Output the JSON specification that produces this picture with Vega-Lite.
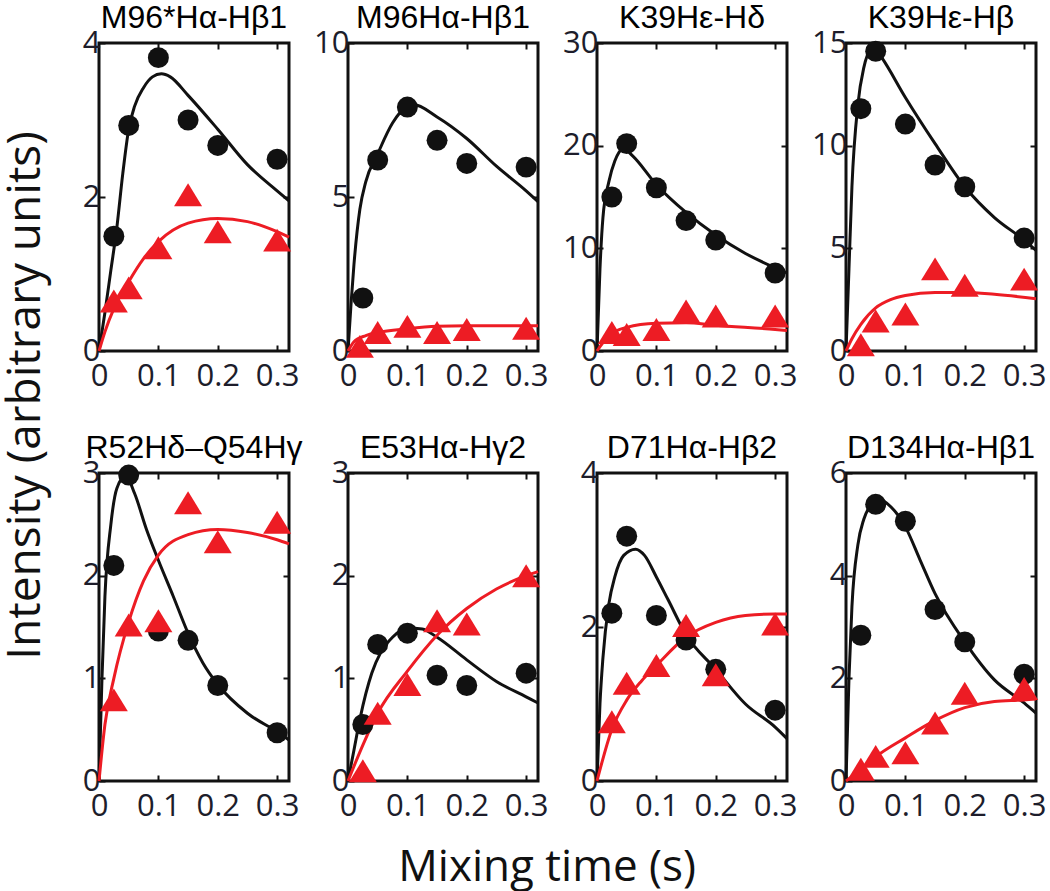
{
"$schema":"https://vega.github.io/schema/vega-lite/v6.json",
"background":"white",
"padding":{"left":2,"top":0,"right":5,"bottom":5},
"config":{
 "view":{"stroke":"#111","strokeWidth":3},
 "axis":{"domain":false,"grid":false,"labelFont":"Open Sans","labelFontSize":31,"labelColor":"#1d1d2b","tickColor":"#111","tickWidth":2,"tickSize":-6,"labelPadding":8,"labelFlush":false,"labelOverlap":false,"title":null},
 "axisX":{"labelPadding":16},
 "axisY":{"labelPadding":5},
 "title":{"font":"Liberation Sans","fontSize":32,"fontWeight":"normal","color":"#000","anchor":"middle","baseline":"alphabetic","offset":-8}
},
"datasets":{"d":[
{"p":1,"s":"b","k":"pt","t":0.025,"v":1.49},{"p":1,"s":"b","k":"pt","t":0.05,"v":2.93},{"p":1,"s":"b","k":"pt","t":0.1,"v":3.81},{"p":1,"s":"b","k":"pt","t":0.15,"v":3.0},{"p":1,"s":"b","k":"pt","t":0.2,"v":2.67},{"p":1,"s":"b","k":"pt","t":0.3,"v":2.49},
{"p":1,"s":"r","k":"pt","t":0.025,"v":0.65},{"p":1,"s":"r","k":"pt","t":0.05,"v":0.82},{"p":1,"s":"r","k":"pt","t":0.1,"v":1.34},{"p":1,"s":"r","k":"pt","t":0.15,"v":2.03},{"p":1,"s":"r","k":"pt","t":0.2,"v":1.55},{"p":1,"s":"r","k":"pt","t":0.3,"v":1.44},
{"p":2,"s":"b","k":"pt","t":0.025,"v":1.72},{"p":2,"s":"b","k":"pt","t":0.05,"v":6.2},{"p":2,"s":"b","k":"pt","t":0.1,"v":7.92},{"p":2,"s":"b","k":"pt","t":0.15,"v":6.84},{"p":2,"s":"b","k":"pt","t":0.2,"v":6.09},{"p":2,"s":"b","k":"pt","t":0.3,"v":5.97},
{"p":2,"s":"r","k":"pt","t":0.02,"v":0.15},{"p":2,"s":"r","k":"pt","t":0.05,"v":0.6},{"p":2,"s":"r","k":"pt","t":0.1,"v":0.8},{"p":2,"s":"r","k":"pt","t":0.15,"v":0.6},{"p":2,"s":"r","k":"pt","t":0.2,"v":0.7},{"p":2,"s":"r","k":"pt","t":0.3,"v":0.74},
{"p":3,"s":"b","k":"pt","t":0.025,"v":15.0},{"p":3,"s":"b","k":"pt","t":0.05,"v":20.2},{"p":3,"s":"b","k":"pt","t":0.1,"v":15.9},{"p":3,"s":"b","k":"pt","t":0.15,"v":12.7},{"p":3,"s":"b","k":"pt","t":0.2,"v":10.8},{"p":3,"s":"b","k":"pt","t":0.3,"v":7.6},
{"p":3,"s":"r","k":"pt","t":0.025,"v":1.8},{"p":3,"s":"r","k":"pt","t":0.05,"v":1.6},{"p":3,"s":"r","k":"pt","t":0.1,"v":2.1},{"p":3,"s":"r","k":"pt","t":0.15,"v":3.9},{"p":3,"s":"r","k":"pt","t":0.2,"v":3.4},{"p":3,"s":"r","k":"pt","t":0.3,"v":3.4},
{"p":4,"s":"b","k":"pt","t":0.025,"v":11.8},{"p":4,"s":"b","k":"pt","t":0.05,"v":14.6},{"p":4,"s":"b","k":"pt","t":0.1,"v":11.05},{"p":4,"s":"b","k":"pt","t":0.15,"v":9.06},{"p":4,"s":"b","k":"pt","t":0.2,"v":8.0},{"p":4,"s":"b","k":"pt","t":0.3,"v":5.5},
{"p":4,"s":"r","k":"pt","t":0.025,"v":0.3},{"p":4,"s":"r","k":"pt","t":0.05,"v":1.46},{"p":4,"s":"r","k":"pt","t":0.1,"v":1.8},{"p":4,"s":"r","k":"pt","t":0.15,"v":4.0},{"p":4,"s":"r","k":"pt","t":0.2,"v":3.2},{"p":4,"s":"r","k":"pt","t":0.3,"v":3.5},
{"p":5,"s":"b","k":"pt","t":0.025,"v":2.1},{"p":5,"s":"b","k":"pt","t":0.05,"v":2.98},{"p":5,"s":"b","k":"pt","t":0.1,"v":1.46},{"p":5,"s":"b","k":"pt","t":0.15,"v":1.37},{"p":5,"s":"b","k":"pt","t":0.2,"v":0.93},{"p":5,"s":"b","k":"pt","t":0.3,"v":0.47},
{"p":5,"s":"r","k":"pt","t":0.025,"v":0.79},{"p":5,"s":"r","k":"pt","t":0.05,"v":1.52},{"p":5,"s":"r","k":"pt","t":0.1,"v":1.56},{"p":5,"s":"r","k":"pt","t":0.15,"v":2.71},{"p":5,"s":"r","k":"pt","t":0.2,"v":2.33},{"p":5,"s":"r","k":"pt","t":0.3,"v":2.52},
{"p":6,"s":"b","k":"pt","t":0.025,"v":0.55},{"p":6,"s":"b","k":"pt","t":0.05,"v":1.33},{"p":6,"s":"b","k":"pt","t":0.1,"v":1.44},{"p":6,"s":"b","k":"pt","t":0.15,"v":1.03},{"p":6,"s":"b","k":"pt","t":0.2,"v":0.93},{"p":6,"s":"b","k":"pt","t":0.3,"v":1.05},
{"p":6,"s":"r","k":"pt","t":0.025,"v":0.1},{"p":6,"s":"r","k":"pt","t":0.05,"v":0.66},{"p":6,"s":"r","k":"pt","t":0.1,"v":0.94},{"p":6,"s":"r","k":"pt","t":0.15,"v":1.56},{"p":6,"s":"r","k":"pt","t":0.2,"v":1.53},{"p":6,"s":"r","k":"pt","t":0.3,"v":2.0},
{"p":7,"s":"b","k":"pt","t":0.025,"v":2.18},{"p":7,"s":"b","k":"pt","t":0.05,"v":3.18},{"p":7,"s":"b","k":"pt","t":0.1,"v":2.15},{"p":7,"s":"b","k":"pt","t":0.15,"v":1.83},{"p":7,"s":"b","k":"pt","t":0.2,"v":1.45},{"p":7,"s":"b","k":"pt","t":0.3,"v":0.92},
{"p":7,"s":"r","k":"pt","t":0.025,"v":0.77},{"p":7,"s":"r","k":"pt","t":0.05,"v":1.27},{"p":7,"s":"r","k":"pt","t":0.1,"v":1.5},{"p":7,"s":"r","k":"pt","t":0.15,"v":2.02},{"p":7,"s":"r","k":"pt","t":0.2,"v":1.38},{"p":7,"s":"r","k":"pt","t":0.3,"v":2.04},
{"p":8,"s":"b","k":"pt","t":0.025,"v":2.84},{"p":8,"s":"b","k":"pt","t":0.05,"v":5.39},{"p":8,"s":"b","k":"pt","t":0.1,"v":5.06},{"p":8,"s":"b","k":"pt","t":0.15,"v":3.34},{"p":8,"s":"b","k":"pt","t":0.2,"v":2.71},{"p":8,"s":"b","k":"pt","t":0.3,"v":2.08},
{"p":8,"s":"r","k":"pt","t":0.025,"v":0.23},{"p":8,"s":"r","k":"pt","t":0.05,"v":0.48},{"p":8,"s":"r","k":"pt","t":0.1,"v":0.55},{"p":8,"s":"r","k":"pt","t":0.15,"v":1.13},{"p":8,"s":"r","k":"pt","t":0.2,"v":1.71},{"p":8,"s":"r","k":"pt","t":0.3,"v":1.8},

{"p":1,"s":"b","k":"fit","t":0,"v":0},{"p":1,"s":"b","k":"fit","t":0.01,"v":0.5},{"p":1,"s":"b","k":"fit","t":0.02,"v":1.05},{"p":1,"s":"b","k":"fit","t":0.03,"v":1.6},{"p":1,"s":"b","k":"fit","t":0.04,"v":2.3},{"p":1,"s":"b","k":"fit","t":0.05,"v":2.88},{"p":1,"s":"b","k":"fit","t":0.06,"v":3.18},{"p":1,"s":"b","k":"fit","t":0.075,"v":3.42},{"p":1,"s":"b","k":"fit","t":0.09,"v":3.56},{"p":1,"s":"b","k":"fit","t":0.105,"v":3.6},{"p":1,"s":"b","k":"fit","t":0.12,"v":3.56},{"p":1,"s":"b","k":"fit","t":0.15,"v":3.32},{"p":1,"s":"b","k":"fit","t":0.2,"v":2.88},{"p":1,"s":"b","k":"fit","t":0.25,"v":2.42},{"p":1,"s":"b","k":"fit","t":0.3,"v":2.08},{"p":1,"s":"b","k":"fit","t":0.32,"v":1.95},
{"p":1,"s":"r","k":"fit","t":0,"v":0},{"p":1,"s":"r","k":"fit","t":0.01,"v":0.25},{"p":1,"s":"r","k":"fit","t":0.025,"v":0.55},{"p":1,"s":"r","k":"fit","t":0.05,"v":0.9},{"p":1,"s":"r","k":"fit","t":0.075,"v":1.2},{"p":1,"s":"r","k":"fit","t":0.1,"v":1.42},{"p":1,"s":"r","k":"fit","t":0.15,"v":1.66},{"p":1,"s":"r","k":"fit","t":0.2,"v":1.72},{"p":1,"s":"r","k":"fit","t":0.25,"v":1.68},{"p":1,"s":"r","k":"fit","t":0.3,"v":1.55},{"p":1,"s":"r","k":"fit","t":0.32,"v":1.48},
{"p":2,"s":"b","k":"fit","t":0,"v":0},{"p":2,"s":"b","k":"fit","t":0.005,"v":1.5},{"p":2,"s":"b","k":"fit","t":0.01,"v":2.8},{"p":2,"s":"b","k":"fit","t":0.02,"v":4.6},{"p":2,"s":"b","k":"fit","t":0.03,"v":5.5},{"p":2,"s":"b","k":"fit","t":0.05,"v":6.4},{"p":2,"s":"b","k":"fit","t":0.075,"v":7.4},{"p":2,"s":"b","k":"fit","t":0.1,"v":7.95},{"p":2,"s":"b","k":"fit","t":0.11,"v":8.0},{"p":2,"s":"b","k":"fit","t":0.15,"v":7.6},{"p":2,"s":"b","k":"fit","t":0.2,"v":6.9},{"p":2,"s":"b","k":"fit","t":0.25,"v":6.0},{"p":2,"s":"b","k":"fit","t":0.3,"v":5.2},{"p":2,"s":"b","k":"fit","t":0.32,"v":4.85},
{"p":2,"s":"r","k":"fit","t":0,"v":0},{"p":2,"s":"r","k":"fit","t":0.01,"v":0.3},{"p":2,"s":"r","k":"fit","t":0.03,"v":0.5},{"p":2,"s":"r","k":"fit","t":0.05,"v":0.6},{"p":2,"s":"r","k":"fit","t":0.1,"v":0.72},{"p":2,"s":"r","k":"fit","t":0.15,"v":0.8},{"p":2,"s":"r","k":"fit","t":0.2,"v":0.82},{"p":2,"s":"r","k":"fit","t":0.3,"v":0.82},{"p":2,"s":"r","k":"fit","t":0.32,"v":0.82},
{"p":3,"s":"b","k":"fit","t":0,"v":0},{"p":3,"s":"b","k":"fit","t":0.005,"v":8},{"p":3,"s":"b","k":"fit","t":0.01,"v":13},{"p":3,"s":"b","k":"fit","t":0.02,"v":16.5},{"p":3,"s":"b","k":"fit","t":0.03,"v":18.5},{"p":3,"s":"b","k":"fit","t":0.045,"v":19.7},{"p":3,"s":"b","k":"fit","t":0.06,"v":19.0},{"p":3,"s":"b","k":"fit","t":0.1,"v":16.2},{"p":3,"s":"b","k":"fit","t":0.15,"v":13.5},{"p":3,"s":"b","k":"fit","t":0.2,"v":11.3},{"p":3,"s":"b","k":"fit","t":0.25,"v":9.5},{"p":3,"s":"b","k":"fit","t":0.3,"v":8.1},{"p":3,"s":"b","k":"fit","t":0.32,"v":7.6},
{"p":3,"s":"r","k":"fit","t":0,"v":0},{"p":3,"s":"r","k":"fit","t":0.02,"v":1.5},{"p":3,"s":"r","k":"fit","t":0.05,"v":2.3},{"p":3,"s":"r","k":"fit","t":0.1,"v":2.7},{"p":3,"s":"r","k":"fit","t":0.15,"v":2.75},{"p":3,"s":"r","k":"fit","t":0.2,"v":2.5},{"p":3,"s":"r","k":"fit","t":0.3,"v":2.1},{"p":3,"s":"r","k":"fit","t":0.32,"v":2.0},
{"p":4,"s":"b","k":"fit","t":0,"v":0},{"p":4,"s":"b","k":"fit","t":0.005,"v":4},{"p":4,"s":"b","k":"fit","t":0.01,"v":8},{"p":4,"s":"b","k":"fit","t":0.02,"v":12},{"p":4,"s":"b","k":"fit","t":0.03,"v":13.8},{"p":4,"s":"b","k":"fit","t":0.04,"v":14.6},{"p":4,"s":"b","k":"fit","t":0.05,"v":14.7},{"p":4,"s":"b","k":"fit","t":0.06,"v":14.3},{"p":4,"s":"b","k":"fit","t":0.1,"v":12.35},{"p":4,"s":"b","k":"fit","t":0.15,"v":10.1},{"p":4,"s":"b","k":"fit","t":0.2,"v":8.0},{"p":4,"s":"b","k":"fit","t":0.25,"v":6.5},{"p":4,"s":"b","k":"fit","t":0.3,"v":5.4},{"p":4,"s":"b","k":"fit","t":0.32,"v":4.9},
{"p":4,"s":"r","k":"fit","t":0,"v":0},{"p":4,"s":"r","k":"fit","t":0.01,"v":0.6},{"p":4,"s":"r","k":"fit","t":0.025,"v":1.3},{"p":4,"s":"r","k":"fit","t":0.05,"v":2.1},{"p":4,"s":"r","k":"fit","t":0.075,"v":2.5},{"p":4,"s":"r","k":"fit","t":0.1,"v":2.7},{"p":4,"s":"r","k":"fit","t":0.15,"v":2.85},{"p":4,"s":"r","k":"fit","t":0.2,"v":2.85},{"p":4,"s":"r","k":"fit","t":0.25,"v":2.76},{"p":4,"s":"r","k":"fit","t":0.32,"v":2.55},
{"p":5,"s":"b","k":"fit","t":0,"v":0},{"p":5,"s":"b","k":"fit","t":0.005,"v":1.0},{"p":5,"s":"b","k":"fit","t":0.01,"v":1.8},{"p":5,"s":"b","k":"fit","t":0.02,"v":2.5},{"p":5,"s":"b","k":"fit","t":0.03,"v":2.85},{"p":5,"s":"b","k":"fit","t":0.045,"v":2.97},{"p":5,"s":"b","k":"fit","t":0.06,"v":2.8},{"p":5,"s":"b","k":"fit","t":0.08,"v":2.45},{"p":5,"s":"b","k":"fit","t":0.1,"v":2.15},{"p":5,"s":"b","k":"fit","t":0.125,"v":1.8},{"p":5,"s":"b","k":"fit","t":0.15,"v":1.44},{"p":5,"s":"b","k":"fit","t":0.175,"v":1.15},{"p":5,"s":"b","k":"fit","t":0.2,"v":0.94},{"p":5,"s":"b","k":"fit","t":0.25,"v":0.66},{"p":5,"s":"b","k":"fit","t":0.3,"v":0.48},{"p":5,"s":"b","k":"fit","t":0.32,"v":0.4},
{"p":5,"s":"r","k":"fit","t":0,"v":0},{"p":5,"s":"r","k":"fit","t":0.01,"v":0.55},{"p":5,"s":"r","k":"fit","t":0.025,"v":1.0},{"p":5,"s":"r","k":"fit","t":0.05,"v":1.55},{"p":5,"s":"r","k":"fit","t":0.075,"v":1.95},{"p":5,"s":"r","k":"fit","t":0.1,"v":2.2},{"p":5,"s":"r","k":"fit","t":0.15,"v":2.4},{"p":5,"s":"r","k":"fit","t":0.2,"v":2.45},{"p":5,"s":"r","k":"fit","t":0.25,"v":2.42},{"p":5,"s":"r","k":"fit","t":0.3,"v":2.35},{"p":5,"s":"r","k":"fit","t":0.32,"v":2.31},
{"p":6,"s":"b","k":"fit","t":0,"v":0},{"p":6,"s":"b","k":"fit","t":0.01,"v":0.3},{"p":6,"s":"b","k":"fit","t":0.02,"v":0.6},{"p":6,"s":"b","k":"fit","t":0.03,"v":0.85},{"p":6,"s":"b","k":"fit","t":0.04,"v":1.05},{"p":6,"s":"b","k":"fit","t":0.055,"v":1.25},{"p":6,"s":"b","k":"fit","t":0.075,"v":1.4},{"p":6,"s":"b","k":"fit","t":0.1,"v":1.49},{"p":6,"s":"b","k":"fit","t":0.125,"v":1.48},{"p":6,"s":"b","k":"fit","t":0.15,"v":1.4},{"p":6,"s":"b","k":"fit","t":0.2,"v":1.18},{"p":6,"s":"b","k":"fit","t":0.25,"v":0.97},{"p":6,"s":"b","k":"fit","t":0.3,"v":0.82},{"p":6,"s":"b","k":"fit","t":0.32,"v":0.76},
{"p":6,"s":"r","k":"fit","t":0,"v":0},{"p":6,"s":"r","k":"fit","t":0.025,"v":0.35},{"p":6,"s":"r","k":"fit","t":0.05,"v":0.66},{"p":6,"s":"r","k":"fit","t":0.1,"v":1.07},{"p":6,"s":"r","k":"fit","t":0.15,"v":1.42},{"p":6,"s":"r","k":"fit","t":0.2,"v":1.68},{"p":6,"s":"r","k":"fit","t":0.25,"v":1.87},{"p":6,"s":"r","k":"fit","t":0.3,"v":2.0},{"p":6,"s":"r","k":"fit","t":0.32,"v":2.04},
{"p":7,"s":"b","k":"fit","t":0,"v":0},{"p":7,"s":"b","k":"fit","t":0.005,"v":1.0},{"p":7,"s":"b","k":"fit","t":0.01,"v":1.6},{"p":7,"s":"b","k":"fit","t":0.02,"v":2.3},{"p":7,"s":"b","k":"fit","t":0.03,"v":2.65},{"p":7,"s":"b","k":"fit","t":0.045,"v":2.93},{"p":7,"s":"b","k":"fit","t":0.065,"v":3.01},{"p":7,"s":"b","k":"fit","t":0.08,"v":2.93},{"p":7,"s":"b","k":"fit","t":0.1,"v":2.65},{"p":7,"s":"b","k":"fit","t":0.12,"v":2.35},{"p":7,"s":"b","k":"fit","t":0.15,"v":1.9},{"p":7,"s":"b","k":"fit","t":0.2,"v":1.45},{"p":7,"s":"b","k":"fit","t":0.25,"v":1.0},{"p":7,"s":"b","k":"fit","t":0.3,"v":0.7},{"p":7,"s":"b","k":"fit","t":0.32,"v":0.55},
{"p":7,"s":"r","k":"fit","t":0,"v":0},{"p":7,"s":"r","k":"fit","t":0.025,"v":0.67},{"p":7,"s":"r","k":"fit","t":0.05,"v":1.05},{"p":7,"s":"r","k":"fit","t":0.075,"v":1.3},{"p":7,"s":"r","k":"fit","t":0.1,"v":1.5},{"p":7,"s":"r","k":"fit","t":0.15,"v":1.87},{"p":7,"s":"r","k":"fit","t":0.2,"v":2.06},{"p":7,"s":"r","k":"fit","t":0.25,"v":2.15},{"p":7,"s":"r","k":"fit","t":0.3,"v":2.17},{"p":7,"s":"r","k":"fit","t":0.32,"v":2.17},
{"p":8,"s":"b","k":"fit","t":0,"v":0},{"p":8,"s":"b","k":"fit","t":0.005,"v":2.0},{"p":8,"s":"b","k":"fit","t":0.01,"v":3.4},{"p":8,"s":"b","k":"fit","t":0.02,"v":4.6},{"p":8,"s":"b","k":"fit","t":0.03,"v":5.1},{"p":8,"s":"b","k":"fit","t":0.04,"v":5.35},{"p":8,"s":"b","k":"fit","t":0.055,"v":5.5},{"p":8,"s":"b","k":"fit","t":0.07,"v":5.4},{"p":8,"s":"b","k":"fit","t":0.1,"v":4.95},{"p":8,"s":"b","k":"fit","t":0.125,"v":4.3},{"p":8,"s":"b","k":"fit","t":0.15,"v":3.65},{"p":8,"s":"b","k":"fit","t":0.2,"v":2.71},{"p":8,"s":"b","k":"fit","t":0.25,"v":1.97},{"p":8,"s":"b","k":"fit","t":0.3,"v":1.52},{"p":8,"s":"b","k":"fit","t":0.32,"v":1.32},
{"p":8,"s":"r","k":"fit","t":0,"v":0},{"p":8,"s":"r","k":"fit","t":0.025,"v":0.22},{"p":8,"s":"r","k":"fit","t":0.05,"v":0.47},{"p":8,"s":"r","k":"fit","t":0.1,"v":0.84},{"p":8,"s":"r","k":"fit","t":0.15,"v":1.18},{"p":8,"s":"r","k":"fit","t":0.2,"v":1.43},{"p":8,"s":"r","k":"fit","t":0.25,"v":1.55},{"p":8,"s":"r","k":"fit","t":0.3,"v":1.58},{"p":8,"s":"r","k":"fit","t":0.32,"v":1.6}
]},
"title":{"text":"Mixing time (s)","orient":"bottom","font":"Open Sans","fontSize":44,"color":"#111","offset":58,"dx":22,"baseline":"alphabetic"},
"hconcat":[{
 "title":{"text":"Intensity (arbitrary units)","orient":"left","font":"Open Sans","fontSize":46,"color":"#111","offset":31,"dx":16},
 "columns":4,"spacing":{"row":122,"column":59},"bounds":"flush",
 "concat":[
  {"width":190,"height":308,"title":"M96*Hα-Hβ1","data":{"name":"d"},"transform":[{"filter":"datum.p==1"}],"resolve":{"axis":{"x":"independent","y":"independent"}},"layer":[
   {"transform":[{"filter":"datum.k=='fit'"}],"mark":{"type":"line","interpolate":"monotone","strokeWidth":3},"encoding":{"x":{"field":"t","type":"quantitative","scale":{"domain":[0,0.32],"nice":false},"axis":{"values":[0,0.1,0.2,0.3],"format":".1~f","title":null}},"y":{"field":"v","type":"quantitative","scale":{"domain":[0,4],"nice":false},"axis":{"values":[0,2,4],"title":null}},"color":{"field":"s","type":"nominal","scale":{"domain":["b","r"],"range":["#111111","#ED1C24"]},"legend":null}}},
   {"transform":[{"filter":"datum.k=='pt'"}],"mark":{"type":"point","filled":true,"opacity":1},"encoding":{"x":{"field":"t","type":"quantitative","axis":{"orient":"top","labels":false,"values":[0.1,0.2,0.3],"title":null}},"y":{"field":"v","type":"quantitative","axis":{"orient":"right","labels":false,"values":[2],"title":null}},"color":{"field":"s","type":"nominal","legend":null},"shape":{"field":"s","type":"nominal","scale":{"domain":["b","r"],"range":["circle","M-1,0.82L0,-0.82L1,0.82Z"]},"legend":null},"size":{"field":"s","type":"ordinal","scale":{"domain":["b","r"],"range":[440,784]},"legend":null}}}
  ]},
  {"width":190,"height":308,"title":"M96Hα-Hβ1","data":{"name":"d"},"transform":[{"filter":"datum.p==2"}],"resolve":{"axis":{"x":"independent","y":"independent"}},"layer":[
   {"transform":[{"filter":"datum.k=='fit'"}],"mark":{"type":"line","interpolate":"monotone","strokeWidth":3},"encoding":{"x":{"field":"t","type":"quantitative","scale":{"domain":[0,0.32],"nice":false},"axis":{"values":[0,0.1,0.2,0.3],"format":".1~f","title":null}},"y":{"field":"v","type":"quantitative","scale":{"domain":[0,10],"nice":false},"axis":{"values":[0,5,10],"title":null}},"color":{"field":"s","type":"nominal","scale":{"domain":["b","r"],"range":["#111111","#ED1C24"]},"legend":null}}},
   {"transform":[{"filter":"datum.k=='pt'"}],"mark":{"type":"point","filled":true,"opacity":1},"encoding":{"x":{"field":"t","type":"quantitative","axis":{"orient":"top","labels":false,"values":[0.1,0.2,0.3],"title":null}},"y":{"field":"v","type":"quantitative","axis":{"orient":"right","labels":false,"values":[5],"title":null}},"color":{"field":"s","type":"nominal","legend":null},"shape":{"field":"s","type":"nominal","scale":{"domain":["b","r"],"range":["circle","M-1,0.82L0,-0.82L1,0.82Z"]},"legend":null},"size":{"field":"s","type":"ordinal","scale":{"domain":["b","r"],"range":[440,784]},"legend":null}}}
  ]},
  {"width":190,"height":308,"title":"K39Hε-Hδ","data":{"name":"d"},"transform":[{"filter":"datum.p==3"}],"resolve":{"axis":{"x":"independent","y":"independent"}},"layer":[
   {"transform":[{"filter":"datum.k=='fit'"}],"mark":{"type":"line","interpolate":"monotone","strokeWidth":3},"encoding":{"x":{"field":"t","type":"quantitative","scale":{"domain":[0,0.32],"nice":false},"axis":{"values":[0,0.1,0.2,0.3],"format":".1~f","title":null}},"y":{"field":"v","type":"quantitative","scale":{"domain":[0,30],"nice":false},"axis":{"values":[0,10,20,30],"title":null}},"color":{"field":"s","type":"nominal","scale":{"domain":["b","r"],"range":["#111111","#ED1C24"]},"legend":null}}},
   {"transform":[{"filter":"datum.k=='pt'"}],"mark":{"type":"point","filled":true,"opacity":1},"encoding":{"x":{"field":"t","type":"quantitative","axis":{"orient":"top","labels":false,"values":[0.1,0.2,0.3],"title":null}},"y":{"field":"v","type":"quantitative","axis":{"orient":"right","labels":false,"values":[10,20],"title":null}},"color":{"field":"s","type":"nominal","legend":null},"shape":{"field":"s","type":"nominal","scale":{"domain":["b","r"],"range":["circle","M-1,0.82L0,-0.82L1,0.82Z"]},"legend":null},"size":{"field":"s","type":"ordinal","scale":{"domain":["b","r"],"range":[440,784]},"legend":null}}}
  ]},
  {"width":190,"height":308,"title":"K39Hε-Hβ","data":{"name":"d"},"transform":[{"filter":"datum.p==4"}],"resolve":{"axis":{"x":"independent","y":"independent"}},"layer":[
   {"transform":[{"filter":"datum.k=='fit'"}],"mark":{"type":"line","interpolate":"monotone","strokeWidth":3},"encoding":{"x":{"field":"t","type":"quantitative","scale":{"domain":[0,0.32],"nice":false},"axis":{"values":[0,0.1,0.2,0.3],"format":".1~f","title":null}},"y":{"field":"v","type":"quantitative","scale":{"domain":[0,15],"nice":false},"axis":{"values":[0,5,10,15],"title":null}},"color":{"field":"s","type":"nominal","scale":{"domain":["b","r"],"range":["#111111","#ED1C24"]},"legend":null}}},
   {"transform":[{"filter":"datum.k=='pt'"}],"mark":{"type":"point","filled":true,"opacity":1},"encoding":{"x":{"field":"t","type":"quantitative","axis":{"orient":"top","labels":false,"values":[0.1,0.2,0.3],"title":null}},"y":{"field":"v","type":"quantitative","axis":{"orient":"right","labels":false,"values":[5,10],"title":null}},"color":{"field":"s","type":"nominal","legend":null},"shape":{"field":"s","type":"nominal","scale":{"domain":["b","r"],"range":["circle","M-1,0.82L0,-0.82L1,0.82Z"]},"legend":null},"size":{"field":"s","type":"ordinal","scale":{"domain":["b","r"],"range":[440,784]},"legend":null}}}
  ]},
  {"width":190,"height":308,"title":"R52Hδ–Q54Hγ","data":{"name":"d"},"transform":[{"filter":"datum.p==5"}],"resolve":{"axis":{"x":"independent","y":"independent"}},"layer":[
   {"transform":[{"filter":"datum.k=='fit'"}],"mark":{"type":"line","interpolate":"monotone","strokeWidth":3},"encoding":{"x":{"field":"t","type":"quantitative","scale":{"domain":[0,0.32],"nice":false},"axis":{"values":[0,0.1,0.2,0.3],"format":".1~f","title":null}},"y":{"field":"v","type":"quantitative","scale":{"domain":[0,3],"nice":false},"axis":{"values":[0,1,2,3],"title":null}},"color":{"field":"s","type":"nominal","scale":{"domain":["b","r"],"range":["#111111","#ED1C24"]},"legend":null}}},
   {"transform":[{"filter":"datum.k=='pt'"}],"mark":{"type":"point","filled":true,"opacity":1},"encoding":{"x":{"field":"t","type":"quantitative","axis":{"orient":"top","labels":false,"values":[0.1,0.2,0.3],"title":null}},"y":{"field":"v","type":"quantitative","axis":{"orient":"right","labels":false,"values":[1,2],"title":null}},"color":{"field":"s","type":"nominal","legend":null},"shape":{"field":"s","type":"nominal","scale":{"domain":["b","r"],"range":["circle","M-1,0.82L0,-0.82L1,0.82Z"]},"legend":null},"size":{"field":"s","type":"ordinal","scale":{"domain":["b","r"],"range":[440,784]},"legend":null}}}
  ]},
  {"width":190,"height":308,"title":"E53Hα-Hγ2","data":{"name":"d"},"transform":[{"filter":"datum.p==6"}],"resolve":{"axis":{"x":"independent","y":"independent"}},"layer":[
   {"transform":[{"filter":"datum.k=='fit'"}],"mark":{"type":"line","interpolate":"monotone","strokeWidth":3},"encoding":{"x":{"field":"t","type":"quantitative","scale":{"domain":[0,0.32],"nice":false},"axis":{"values":[0,0.1,0.2,0.3],"format":".1~f","title":null}},"y":{"field":"v","type":"quantitative","scale":{"domain":[0,3],"nice":false},"axis":{"values":[0,1,2,3],"title":null}},"color":{"field":"s","type":"nominal","scale":{"domain":["b","r"],"range":["#111111","#ED1C24"]},"legend":null}}},
   {"transform":[{"filter":"datum.k=='pt'"}],"mark":{"type":"point","filled":true,"opacity":1},"encoding":{"x":{"field":"t","type":"quantitative","axis":{"orient":"top","labels":false,"values":[0.1,0.2,0.3],"title":null}},"y":{"field":"v","type":"quantitative","axis":{"orient":"right","labels":false,"values":[1,2],"title":null}},"color":{"field":"s","type":"nominal","legend":null},"shape":{"field":"s","type":"nominal","scale":{"domain":["b","r"],"range":["circle","M-1,0.82L0,-0.82L1,0.82Z"]},"legend":null},"size":{"field":"s","type":"ordinal","scale":{"domain":["b","r"],"range":[440,784]},"legend":null}}}
  ]},
  {"width":190,"height":308,"title":"D71Hα-Hβ2","data":{"name":"d"},"transform":[{"filter":"datum.p==7"}],"resolve":{"axis":{"x":"independent","y":"independent"}},"layer":[
   {"transform":[{"filter":"datum.k=='fit'"}],"mark":{"type":"line","interpolate":"monotone","strokeWidth":3},"encoding":{"x":{"field":"t","type":"quantitative","scale":{"domain":[0,0.32],"nice":false},"axis":{"values":[0,0.1,0.2,0.3],"format":".1~f","title":null}},"y":{"field":"v","type":"quantitative","scale":{"domain":[0,4],"nice":false},"axis":{"values":[0,2,4],"title":null}},"color":{"field":"s","type":"nominal","scale":{"domain":["b","r"],"range":["#111111","#ED1C24"]},"legend":null}}},
   {"transform":[{"filter":"datum.k=='pt'"}],"mark":{"type":"point","filled":true,"opacity":1},"encoding":{"x":{"field":"t","type":"quantitative","axis":{"orient":"top","labels":false,"values":[0.1,0.2,0.3],"title":null}},"y":{"field":"v","type":"quantitative","axis":{"orient":"right","labels":false,"values":[2],"title":null}},"color":{"field":"s","type":"nominal","legend":null},"shape":{"field":"s","type":"nominal","scale":{"domain":["b","r"],"range":["circle","M-1,0.82L0,-0.82L1,0.82Z"]},"legend":null},"size":{"field":"s","type":"ordinal","scale":{"domain":["b","r"],"range":[440,784]},"legend":null}}}
  ]},
  {"width":190,"height":308,"title":"D134Hα-Hβ1","data":{"name":"d"},"transform":[{"filter":"datum.p==8"}],"resolve":{"axis":{"x":"independent","y":"independent"}},"layer":[
   {"transform":[{"filter":"datum.k=='fit'"}],"mark":{"type":"line","interpolate":"monotone","strokeWidth":3},"encoding":{"x":{"field":"t","type":"quantitative","scale":{"domain":[0,0.32],"nice":false},"axis":{"values":[0,0.1,0.2,0.3],"format":".1~f","title":null}},"y":{"field":"v","type":"quantitative","scale":{"domain":[0,6],"nice":false},"axis":{"values":[0,2,4,6],"title":null}},"color":{"field":"s","type":"nominal","scale":{"domain":["b","r"],"range":["#111111","#ED1C24"]},"legend":null}}},
   {"transform":[{"filter":"datum.k=='pt'"}],"mark":{"type":"point","filled":true,"opacity":1},"encoding":{"x":{"field":"t","type":"quantitative","axis":{"orient":"top","labels":false,"values":[0.1,0.2,0.3],"title":null}},"y":{"field":"v","type":"quantitative","axis":{"orient":"right","labels":false,"values":[2,4],"title":null}},"color":{"field":"s","type":"nominal","legend":null},"shape":{"field":"s","type":"nominal","scale":{"domain":["b","r"],"range":["circle","M-1,0.82L0,-0.82L1,0.82Z"]},"legend":null},"size":{"field":"s","type":"ordinal","scale":{"domain":["b","r"],"range":[440,784]},"legend":null}}}
  ]}
 ]
}]
}
